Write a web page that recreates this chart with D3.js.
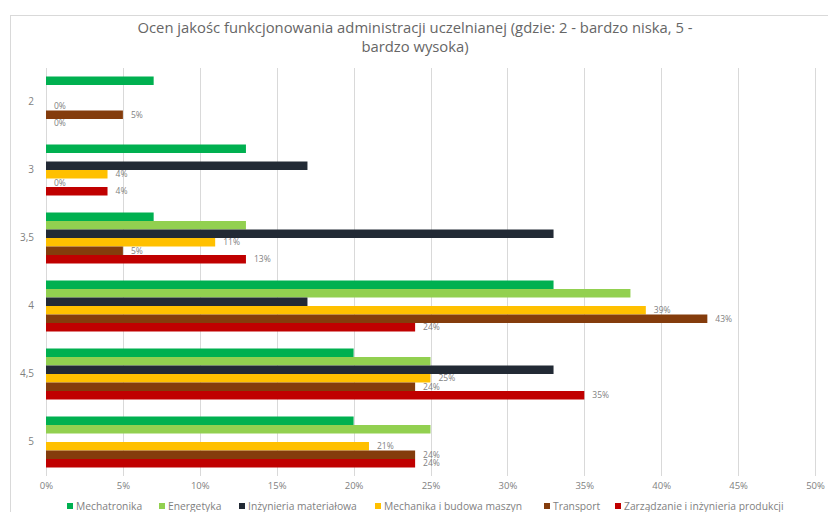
<!DOCTYPE html>
<html><head><meta charset="utf-8">
<script src="https://cdn.jsdelivr.net/npm/d3@7"></script>
<style>body{margin:0;background:#fff}svg{display:block}</style>
</head><body>
<svg id="c" width="828" height="512"></svg>
<script>
const categories = ["2", "3", "3,5", "4", "4,5", "5"];
const seriesNames = ["Mechatronika", "Energetyka", "Inżynieria materiałowa", "Mechanika i budowa maszyn", "Transport", "Zarządzanie i inżynieria produkcji"];
const seriesColors = ["#00B050", "#92D050", "#222A35", "#FFC000", "#843C0C", "#C00000"];
const mechatronika = [7, 13, 7, 33, 20, 20];
const energetyka = [null, null, 13, 38, 25, 25];
const inzynieria = [null, 17, 33, 17, 33, null];
const mechanika = [0, 4, 11, 39, 25, 21];
const transport = [5, 0, 5, 43, 24, 24];
const zarzadzanie = [0, 4, 13, 24, 35, 24];
const labeled = [false, false, false, true, true, true];
const xTicks = [0, 5, 10, 15, 20, 25, 30, 35, 40, 45, 50];
const title = ["Ocen jakośc funkcjonowania administracji uczelnianej (gdzie: 2 - bardzo niska, 5 -", "bardzo wysoka)"];

const seriesValues = [mechatronika, energetyka, inzynieria, mechanika, transport, zarzadzanie];
const svg = d3.select("#c");
const font = "'Open Sans', sans-serif";

// outer chart border
svg.append("rect").attr("x", 10.5).attr("y", 15.5).attr("width", 830).attr("height", 520)
  .attr("fill", "none").attr("stroke", "#d9d9d9");

svg.append("text").attr("x", 415).attr("y", 33).attr("text-anchor", "middle")
  .attr("font-family", font).attr("font-size", 14.8).attr("fill", "#666666")
  .selectAll("tspan").data(title).join("tspan")
  .attr("x", 415).attr("dy", (d, i) => i ? 19 : 0).text(d => d);

const x = d3.scaleLinear().domain([0, 50]).range([46, 815]);
const y = d3.scaleBand().domain(categories).range([68, 476]).paddingInner(0.25).paddingOuter(0.125);
const ys = d3.scaleBand().domain(d3.range(6)).range([0, y.bandwidth()]);

// gridlines
svg.append("g").selectAll("line").data(xTicks).join("line")
  .attr("x1", d => Math.round(x(d)) + 0.5).attr("x2", d => Math.round(x(d)) + 0.5)
  .attr("y1", 68).attr("y2", 476).attr("stroke", "#d9d9d9").attr("stroke-width", 1);

const xAxis = svg.append("g").attr("transform", "translate(0,476)")
  .call(d3.axisBottom(x).tickValues(xTicks).tickFormat(d => d + "%").tickSize(0).tickPadding(6));
xAxis.select(".domain").remove();
xAxis.selectAll("text").attr("font-family", font).attr("font-size", 9.5).attr("fill", "#7f7f7f");

const yAxis = svg.append("g").attr("transform", "translate(34,0)")
  .call(d3.axisLeft(y).tickSize(0).tickPadding(0));
yAxis.select(".domain").remove();
yAxis.selectAll("text").attr("font-family", font).attr("font-size", 10).attr("fill", "#7f7f7f");

const data = [];
categories.forEach((c, ci) => seriesValues.forEach((vals, si) => {
  if (vals[ci] !== null) data.push({c, si, v: vals[ci]});
}));

svg.append("g").selectAll("rect").data(data).join("rect")
  .attr("x", x(0)).attr("y", d => y(d.c) + ys(d.si))
  .attr("width", d => x(d.v) - x(0)).attr("height", ys.bandwidth())
  .attr("fill", d => seriesColors[d.si]);

svg.append("g").selectAll("text").data(data.filter(d => labeled[d.si])).join("text")
  .attr("x", d => x(d.v) + 8).attr("y", d => y(d.c) + ys(d.si) + ys.bandwidth() / 2)
  .attr("dy", "0.35em").attr("font-family", font).attr("font-size", 8.5).attr("fill", "#7f7f7f")
  .text(d => d.v + "%");

// legend
const legendX = [70, 162, 242, 378, 547, 618];
const lg = svg.append("g").selectAll("g").data(seriesNames).join("g")
  .attr("transform", (d, i) => `translate(${legendX[i]},506)`);
lg.append("rect").attr("x", -3).attr("y", -3).attr("width", 6).attr("height", 6).attr("fill", (d, i) => seriesColors[i]);
lg.append("text").attr("x", 6).attr("dy", "0.35em").attr("font-family", font).attr("font-size", 10.3)
  .attr("fill", "#7f7f7f").text(d => d);
</script>
</body></html>
